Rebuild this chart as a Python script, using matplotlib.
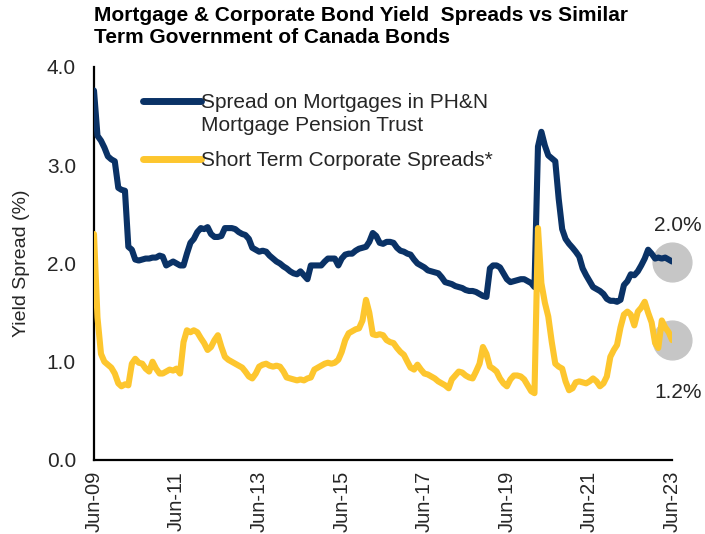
import matplotlib
matplotlib.use('Agg')
import matplotlib.pyplot as plt
import matplotlib.dates as mdates
from matplotlib.legend_handler import HandlerLine2D
import numpy as np
import pandas as pd

plt.rcParams['font.family'] = ['Liberation Sans', 'DejaVu Sans']

# monthly spreads, Jun-2009 .. Jun-2023 (%)
mortgage_spread = [
    3.76, 3.30, 3.25, 3.18, 3.09, 3.06, 3.04, 2.77, 2.75, 2.74,
    2.17, 2.14, 2.04, 2.03, 2.04, 2.05, 2.05, 2.06, 2.06, 2.08,
    2.07, 1.98, 2.00, 2.02, 2.00, 1.98, 1.98, 2.10, 2.21, 2.25,
    2.32, 2.36, 2.35, 2.37, 2.30, 2.27, 2.27, 2.28, 2.36, 2.36,
    2.36, 2.35, 2.32, 2.30, 2.29, 2.25, 2.16, 2.14, 2.12, 2.13,
    2.12, 2.08, 2.05, 2.02, 2.00, 1.97, 1.95, 1.92, 1.90, 1.89,
    1.92, 1.88, 1.84, 1.98, 1.98, 1.98, 1.98, 2.02, 2.05, 2.05,
    2.05, 1.98, 2.05, 2.09, 2.10, 2.10, 2.13, 2.15, 2.16, 2.17,
    2.22, 2.31, 2.28, 2.21, 2.20, 2.22, 2.22, 2.21, 2.16, 2.13,
    2.12, 2.10, 2.09, 2.04, 2.00, 1.98, 1.96, 1.93, 1.92, 1.91,
    1.90, 1.86, 1.81, 1.80, 1.79, 1.77, 1.76, 1.75, 1.73, 1.72,
    1.72, 1.71, 1.69, 1.67, 1.66, 1.95, 1.98, 1.98, 1.96, 1.90,
    1.84, 1.81, 1.82, 1.83, 1.84, 1.84, 1.82, 1.80, 1.76, 3.19,
    3.34, 3.20, 3.10, 3.07, 3.04, 2.66, 2.35, 2.25, 2.20, 2.16,
    2.12, 2.07, 1.95, 1.88, 1.82, 1.76, 1.74, 1.72, 1.69, 1.64,
    1.62, 1.62, 1.61, 1.63, 1.78, 1.82, 1.89, 1.88, 1.92, 1.98,
    2.05, 2.14, 2.10, 2.05, 2.06, 2.05, 2.06, 2.04, 2.02,
]
corporate_spread = [
    2.30, 1.45, 1.08, 1.00, 0.97, 0.94, 0.88, 0.78, 0.75, 0.77,
    0.76, 0.98, 1.03, 0.99, 0.98, 0.93, 0.90, 1.00, 0.93, 0.88,
    0.88, 0.90, 0.92, 0.91, 0.93, 0.88, 1.20, 1.32, 1.30, 1.32,
    1.30, 1.24, 1.19, 1.12, 1.15, 1.22, 1.27, 1.15, 1.05, 1.02,
    1.00, 0.98, 0.96, 0.94, 0.90, 0.85, 0.83, 0.88, 0.95, 0.97,
    0.98, 0.96, 0.95, 0.96, 0.95, 0.90, 0.84, 0.83, 0.82, 0.81,
    0.82, 0.81, 0.83, 0.84, 0.92, 0.94, 0.96, 0.98, 0.99, 0.98,
    0.99, 1.02, 1.10, 1.22, 1.29, 1.31, 1.33, 1.34, 1.42, 1.63,
    1.50, 1.28, 1.27, 1.28, 1.27, 1.22, 1.20, 1.19, 1.14, 1.10,
    1.07, 1.00, 0.94, 0.92, 0.97, 0.92, 0.88, 0.87, 0.85, 0.83,
    0.80, 0.78, 0.76, 0.73, 0.82, 0.86, 0.90, 0.89, 0.86, 0.84,
    0.83, 0.90, 0.98, 1.15, 1.08, 0.95, 0.93, 0.90, 0.83, 0.78,
    0.75, 0.82, 0.86, 0.86, 0.85, 0.82, 0.76, 0.70, 0.68, 2.36,
    1.80, 1.60, 1.46, 1.20, 0.98, 0.95, 0.93, 0.80, 0.71, 0.73,
    0.79, 0.80, 0.79, 0.78, 0.80, 0.83, 0.80, 0.75, 0.78, 0.85,
    1.05, 1.12, 1.17, 1.35, 1.48, 1.51, 1.48, 1.37, 1.51, 1.55,
    1.61, 1.50, 1.40, 1.19, 1.14, 1.42, 1.35, 1.30, 1.22,
]
dates = pd.date_range('2009-06-30', periods=len(mortgage_spread), freq='ME')

series_labels = ['Spread on Mortgages in PH&N\nMortgage Pension Trust',
                 'Short Term Corporate Spreads*']
navy = '#0a3266'
gold = '#fdc62e'
text_col = '#262626'
FS = 15
LSP = 1.3  # line spacing of the 2-line legend label


class FirstLineHandler(HandlerLine2D):
    """puts the legend swatch next to the first line of a 2-line label"""
    def __init__(self, shift, **kw):
        super().__init__(**kw)
        self.shift = shift

    def create_artists(self, *args, **kwargs):
        arts = super().create_artists(*args, **kwargs)
        for a in arts:
            a.set_ydata(np.asarray(a.get_ydata()) + self.shift)
        return arts


fig = plt.figure(figsize=(7.05, 5.34), dpi=100)
ax = fig.add_axes([0.1333, 0.1386, 0.82, 0.736])

l1, = ax.plot(dates, mortgage_spread, color=navy, lw=4.4, solid_capstyle='round',
              label=series_labels[0], zorder=3)
l2, = ax.plot(dates, corporate_spread, color=gold, lw=4.4, solid_capstyle='round',
              label=series_labels[1], zorder=3)

# grey bubbles + labels on the latest values
for vals, dy in [(mortgage_spread, 26), (corporate_spread, -38)]:
    ax.scatter(dates[-1], vals[-1], s=780, color='#c6c6c6', zorder=2, clip_on=False)
    ax.annotate(f'{vals[-1]:.1f}%', (dates[-1], vals[-1]), xytext=(4, dy),
                textcoords='offset points', ha='center', va='center',
                fontsize=FS, color=text_col, annotation_clip=False)

ax.set_xlim(dates[0], dates[-1])
ax.set_ylim(0, 4)
ax.set_yticks([0, 1, 2, 3, 4])
ax.yaxis.set_major_formatter(plt.FuncFormatter(lambda v, p: f'{v:.1f}'))
ax.set_xticks(dates[::24])
ax.xaxis.set_major_formatter(mdates.DateFormatter('%b-%y'))
ax.tick_params(axis='x', rotation=90, length=0, pad=8, labelsize=14.5, labelcolor=text_col)
ax.tick_params(axis='y', length=0, pad=13, labelsize=FS, labelcolor=text_col)
for lbl in ax.get_xticklabels():
    lbl.set_va('top')

for s in ['top', 'right']:
    ax.spines[s].set_visible(False)
for s in ['left', 'bottom']:
    ax.spines[s].set_linewidth(1.6)
    ax.spines[s].set_color('black')

ax.set_ylabel('Yield Spread (%)', fontsize=14, color=text_col, labelpad=12)

leg = ax.legend(handles=[l1, l2], loc='upper left', bbox_to_anchor=(0.07, 0.955),
                frameon=False, fontsize=FS, handlelength=2.8, handletextpad=0.0,
                labelspacing=0.75, borderaxespad=0,
                handler_map={l1: FirstLineHandler(shift=0.5 * LSP * FS)})
for t in leg.get_texts():
    t.set_color(text_col)
    t.set_linespacing(LSP)
for h in leg.get_lines():
    h.set_linewidth(5)

fig.text(0.1333, 0.988, 'Mortgage & Corporate Bond Yield  Spreads vs Similar\n'
         'Term Government of Canada Bonds', ha='left', va='top',
         fontsize=FS, fontweight='bold', color='black', linespacing=1.2)

fig.savefig('out.png', dpi=100)
plt.close(fig)
